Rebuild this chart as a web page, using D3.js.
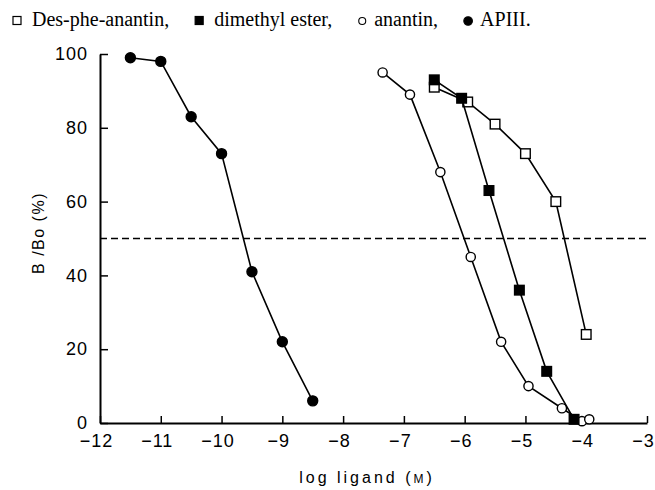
<!DOCTYPE html>
<html>
<head>
<meta charset="utf-8">
<script src="https://cdn.jsdelivr.net/npm/d3@7"></script>
<style>
  body { margin: 0; background: #fff; }
  svg { display: block; }
</style>
</head>
<body>
<svg id="chart" width="655" height="490"></svg>
<script>
// values (log ligand in M, B/Bo in %)
const xTicks = [-12, -11, -10, -9, -8, -7, -6, -5, -4, -3];
const yTicks = [0, 20, 40, 60, 80, 100];

const desPheX = [-6.5, -5.95, -5.5, -5.0, -4.5, -4.0];
const desPheY = [91, 87, 81, 73, 60, 24];

const esterX = [-6.5, -6.05, -5.6, -5.1, -4.65, -4.2];
const esterY = [93, 88, 63, 36, 14, 1];

const anantinX = [-7.35, -6.9, -6.4, -5.9, -5.4, -4.95, -4.4, -4.07, -3.95];
const anantinY = [95, 89, 68, 45, 22, 10, 4, 0.5, 1];

const apiiiX = [-11.5, -11, -10.5, -10, -9.5, -9, -8.5];
const apiiiY = [99, 98, 83, 73, 41, 22, 6];

const halfLine = 50;

const legendItems = [
    {label: "Des-phe-anantin,", shape: "square", fill: "white"},
    {label: "dimethyl ester,", shape: "square", fill: "black"},
    {label: "anantin,", shape: "circle", fill: "white"},
    {label: "APIII.", shape: "circle", fill: "black"}
];

var svg = d3.select("#chart");
var plotLeft = 100, plotRight = 647, plotTop = 54, plotBottom = 423;

var x = d3.scaleLinear().domain([-12, -3]).range([plotLeft, plotRight]);
var y = d3.scaleLinear().domain([0, 100]).range([plotBottom, plotTop]);

// legend line at the top, serif like the caption
var cursor = 13;
legendItems.forEach(function (item) {
    if (item.shape == "square") {
        svg.append("rect")
            .attr("x", cursor).attr("y", 16.5)
            .attr("width", 8).attr("height", 8)
            .style("fill", item.fill)
            .style("stroke", "black")
            .style("stroke-width", 1.2);
        cursor += 19;
    } else {
        svg.append("circle")
            .attr("cx", cursor + 4).attr("cy", 21)
            .attr("r", item.fill == "black" ? 4.3 : 3.5)
            .style("fill", item.fill)
            .style("stroke", "black")
            .style("stroke-width", 1.1);
        cursor += 16;
    }
    let t = svg.append("text")
        .attr("x", cursor).attr("y", 26)
        .style("font-family", "Liberation Serif")
        .style("font-size", "20px")
        .text(item.label);
    cursor += t.node().getComputedTextLength() + 26;
});

// axes with inward ticks
var yAxis = svg.append("g")
    .attr("transform", "translate(" + plotLeft + ",0)")
    .call(d3.axisLeft(y).tickValues(yTicks).tickSizeInner(-8).tickSizeOuter(0).tickPadding(12).tickFormat(d3.format("d")));

var xAxis = svg.append("g")
    .attr("transform", "translate(0," + plotBottom + ")")
    .call(d3.axisBottom(x).tickValues(xTicks).tickSizeInner(-7).tickSizeOuter(0).tickPadding(11).tickFormat(d3.format("d")));

[xAxis, yAxis].forEach(function (a) {
    a.select(".domain").style("stroke-width", 2);
    a.selectAll(".tick line").style("stroke-width", 1.5);
    a.selectAll(".tick text")
        .style("font-family", "Liberation Sans")
        .style("font-size", "18px")
        .style("letter-spacing", "1px")
        .style("fill", "black");
});
xAxis.selectAll(".tick text").attr("dx", -4);

// dashed 50% line
svg.append("line")
    .attr("x1", x(-12)).attr("x2", 650)
    .attr("y1", y(halfLine)).attr("y2", y(halfLine))
    .style("stroke", "black")
    .style("stroke-width", 1.5)
    .style("stroke-dasharray", "7,4");

// axis titles
svg.append("text")
    .attr("text-anchor", "middle")
    .attr("transform", "translate(44,233)rotate(-90)")
    .style("font-family", "Liberation Sans")
    .style("font-size", "16px")
    .style("letter-spacing", "1.5px")
    .text("B /Bo (%)");

var xl = svg.append("text")
    .attr("x", 367).attr("y", 483)
    .attr("text-anchor", "middle")
    .style("font-family", "Liberation Sans")
    .style("font-size", "16px")
    .style("letter-spacing", "3px");
xl.append("tspan").text("log ligand (");
xl.append("tspan").style("font-size", "12px").text("M");
xl.append("tspan").text(")");

var line = d3.line()
    .x(function (d) { return x(d[0]); })
    .y(function (d) { return y(d[1]); });

function drawSeries(xs, ys, shape, fill, size) {
    let data = xs.map(function (v, i) { return [v, ys[i]]; });
    svg.append("path")
        .datum(data)
        .attr("d", line)
        .style("fill", "none")
        .style("stroke", "black")
        .style("stroke-width", 1.6);
    let g = svg.append("g");
    if (shape == "circle") {
        g.selectAll("circle").data(data).enter().append("circle")
            .attr("cx", function (d) { return x(d[0]); })
            .attr("cy", function (d) { return y(d[1]); })
            .attr("r", size)
            .style("fill", fill)
            .style("stroke", "black")
            .style("stroke-width", 1.4);
    } else {
        g.selectAll("rect").data(data).enter().append("rect")
            .attr("x", function (d) { return x(d[0]) - size; })
            .attr("y", function (d) { return y(d[1]) - size; })
            .attr("width", size * 2)
            .attr("height", size * 2)
            .style("fill", fill)
            .style("stroke", "black")
            .style("stroke-width", 1.4);
    }
}

drawSeries(desPheX, desPheY, "square", "white", 4.8);
drawSeries(anantinX, anantinY, "circle", "white", 4.6);
drawSeries(esterX, esterY, "square", "black", 4.8);
drawSeries(apiiiX, apiiiY, "circle", "black", 5);
</script>
</body>
</html>
